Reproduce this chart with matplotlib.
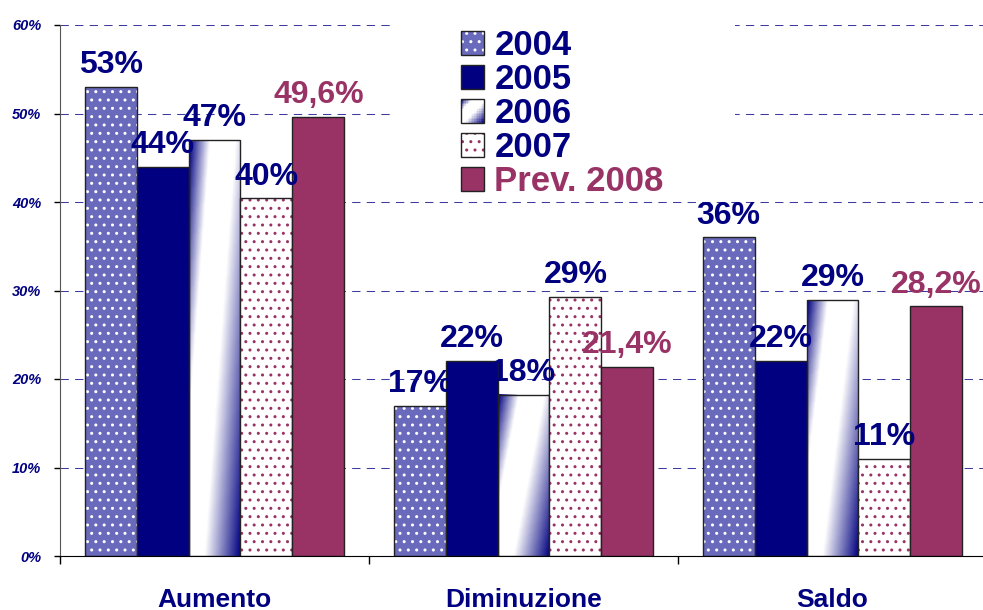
import numpy as np
import matplotlib.pyplot as plt
from matplotlib.colors import LinearSegmentedColormap
from matplotlib.patches import Rectangle
from matplotlib.legend_handler import HandlerBase

plt.rcParams['font.family'] = ['Liberation Sans', 'DejaVu Sans']
plt.rcParams['hatch.linewidth'] = 1.0

# -----------------------------------------------------------
# data
# -----------------------------------------------------------
categories = ['Aumento', 'Diminuzione', 'Saldo']
series = ['2004', '2005', '2006', '2007', 'Prev. 2008']
v2004 = [53, 17, 36]
v2005 = [44, 22, 22]
v2006 = [47, 18.2, 28.9]
v2007 = [40.4, 29.3, 11]
v2008 = [49.6, 21.4, 28.2]
yticks = [0, 10, 20, 30, 40, 50, 60]

navy = '#000080'
maroon = '#993366'
blue04 = '#6a6abd'
edge = '#222222'

# diagonal navy -> white -> navy gradient for the 2006 bars
grad_cmap = LinearSegmentedColormap.from_list(
    'grad', [(0, navy), (0.4 / 1.6, 'white'), (0.9 / 1.6, 'white'), (1, navy)])

outline = dict(fill=False, edgecolor=edge, lw=1)
layers = {
    '2004': [dict(facecolor=blue04, edgecolor='white', hatch='..', lw=0), outline],
    '2005': [dict(facecolor=navy, edgecolor=edge, lw=1)],
    '2006': [outline],
    '2007': [dict(facecolor='white', edgecolor=maroon, hatch='..', lw=0), outline],
    'Prev. 2008': [dict(facecolor=maroon, edgecolor=edge, lw=1)],
}


class LayerHandler(HandlerBase):
    def __init__(self, layers, grad=False):
        super().__init__()
        self.layers = layers
        self.grad = grad

    def create_artists(self, legend, orig_handle, xdescent, ydescent,
                       width, height, fontsize, trans):
        x0, y0 = -xdescent, -ydescent
        arts = []
        if self.grad:
            n = 14
            for i in range(n):
                for j in range(n):
                    s = ((i + 0.5) / n + 1 - (j + 0.5) / n) / 2
                    arts.append(Rectangle((x0 + i * width / n, y0 + j * height / n),
                                          width / n * 1.05, height / n * 1.05,
                                          facecolor=grad_cmap(s), lw=0,
                                          antialiased=False, transform=trans))
        for kw in self.layers:
            arts.append(Rectangle((x0, y0), width, height, transform=trans, **kw))
        return arts


fig = plt.figure(figsize=(9.83, 6.10), dpi=100)
ax = fig.add_axes([60 / 983, 54 / 610, 927 / 983, 531 / 610])

x = np.arange(len(categories))
w = 0.168
values = [v2004, v2005, v2006, v2007, v2008]

for k, (name, vals) in enumerate(zip(series, values)):
    xc = x + (k - 2) * w
    if name == '2006':
        for xi, v in zip(xc, vals):
            yy, xx = np.mgrid[0:1:80j, 0:1:80j]
            s = xx + 0.6 * yy  # rows from top (yy=0) to bottom (yy=1)
            rgba = grad_cmap(s / 1.6)
            ax.imshow(rgba, aspect='auto', origin='upper',
                      extent=(xi - w / 2, xi + w / 2, 0, v), zorder=2,
                      interpolation='bilinear')
    for kw in layers[name]:
        ax.bar(xc, vals, width=w, zorder=2.5, **kw)
    col = maroon if name == 'Prev. 2008' else navy
    for xi, v in zip(xc, vals):
        if name == 'Prev. 2008':
            txt = f"{v:.1f}%".replace('.', ',')
        else:
            txt = f"{round(v)}%"
        ax.annotate(txt, (xi, v), xytext=(0, 10), textcoords='offset points',
                    ha='center', va='baseline', fontsize=23, fontweight='bold',
                    color=col, zorder=5)

ax.set_xlim(-0.5, 2.5)
ax.set_ylim(0, 60)

# white box behind the legend
ax.add_patch(Rectangle((0.356, 0.675), 0.372, 0.4, transform=ax.transAxes,
                       facecolor='white', edgecolor='none', zorder=1, clip_on=False))

ax.set_axisbelow(True)
ax.yaxis.grid(True, linestyle=(0, (8, 6)), color='#3c3ca0', lw=0.75)

for sp in ['top', 'right']:
    ax.spines[sp].set_visible(False)
ax.spines['left'].set_color('#555555')
ax.spines['bottom'].set_color('black')

ax.set_yticks(yticks)
ax.set_yticklabels([f"{t}%" for t in yticks])
ax.tick_params(axis='y', length=4.5, width=1, color='black', pad=9,
               labelsize=10.5, labelcolor=navy)
for lbl in ax.get_yticklabels():
    lbl.set_fontweight('bold')
    lbl.set_fontstyle('italic')

ax.set_xticks(x)
ax.set_xticklabels(categories)
ax.set_xticks([-0.5, 0.5, 1.5], minor=True)
ax.tick_params(axis='x', which='major', length=0, pad=23, labelsize=19, labelcolor=navy)
ax.tick_params(axis='x', which='minor', length=6, width=1, color='black')
for lbl in ax.get_xticklabels():
    lbl.set_fontweight('bold')

handles = [Rectangle((0, 0), 1, 1) for _ in series]
hmap = {h: LayerHandler(layers[name], grad=(name == '2006'))
        for h, name in zip(handles, series)}
leg = ax.legend(handles, series, handler_map=hmap, loc='upper left',
                bbox_to_anchor=(461 / 983, 1 - 29 / 610), bbox_transform=fig.transFigure,
                frameon=False, prop=dict(size=25, weight='bold'),
                handlelength=0.66, handleheight=0.66, handletextpad=0.3,
                labelspacing=0.03, borderpad=0, borderaxespad=0)
for t, name in zip(leg.get_texts(), series):
    t.set_color(maroon if name == 'Prev. 2008' else navy)

fig.savefig('out.png', dpi=100)
